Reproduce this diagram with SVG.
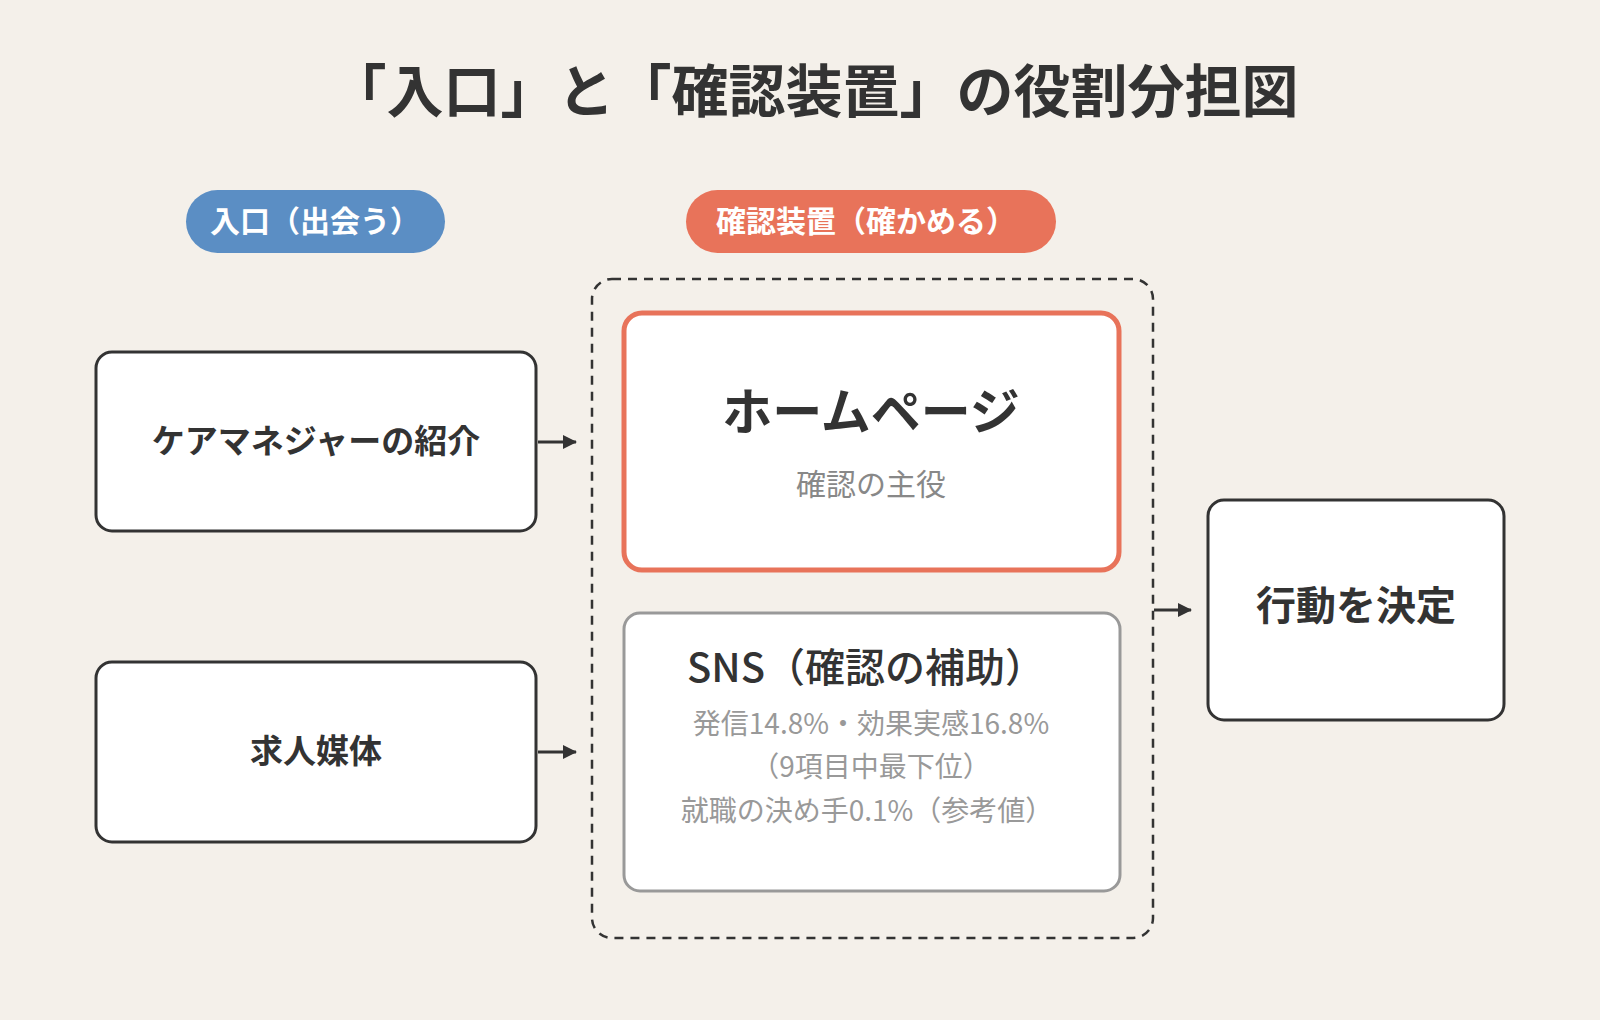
<svg xmlns="http://www.w3.org/2000/svg" width="1600" height="1020" viewBox="0 0 1600 1020">
<defs>
<marker id="ah" markerWidth="14" markerHeight="14" refX="13" refY="7" orient="auto" markerUnits="userSpaceOnUse"><path d="M0,0 L14,7 L0,14 z" fill="#333"/></marker>
<style>
text{font-family:"Noto Sans CJK JP","Noto Sans",sans-serif;text-anchor:middle}
.box{fill:#fff;stroke:#333;stroke-width:3}
.b{font-weight:700;fill:#333}
.g{fill:#999;font-size:28px}
.c{stroke:#333;stroke-width:3;fill:none;marker-end:url(#ah)}
</style>
</defs>
<rect width="1600" height="1020" fill="#f4f0ea"/>
<text x="814" y="112" class="b" font-size="57" font-weight="900">「入口」と「確認装置」の役割分担図</text>
<g id="pill-entry"><rect x="186" y="190" width="259" height="63" rx="31.5" fill="#5b8ec4"/><text x="315" y="232" font-size="30" font-weight="700" fill="#fff">入口（出会う）</text></g>
<g id="pill-confirm"><rect x="686" y="190" width="370" height="63" rx="31.5" fill="#e8735a"/><text x="866" y="232" font-size="30" font-weight="700" fill="#fff">確認装置（確かめる）</text></g>
<g id="group-confirm"><rect x="592" y="279" width="561" height="659" rx="20" fill="none" stroke="#333" stroke-width="2.5" stroke-dasharray="9 7"/></g>
<g id="homepage"><rect x="624" y="313" width="495" height="257" rx="18" fill="#fff" stroke="#e8735a" stroke-width="5"/><text x="871" y="430" class="b" font-size="50" font-weight="900">ホームページ</text><text x="871" y="495" font-size="30" fill="#888">確認の主役</text></g>
<g id="sns"><rect x="624" y="613" width="496" height="278" rx="16" fill="#fff" stroke="#999" stroke-width="3"/><text x="866" y="682" font-size="40" font-weight="500" fill="#333">SNS（確認の補助）</text><text x="871" y="734" class="g">発信14.8%・効果実感16.8%</text><text x="871" y="777" class="g">（9項目中最下位）</text><text x="867" y="821" class="g">就職の決め手0.1%（参考値）</text></g>
<g id="caremanager"><rect x="96" y="352" width="440" height="179" rx="16" class="box"/><text x="316" y="453" class="b" font-size="33">ケアマネジャーの紹介</text></g>
<g id="jobmedia"><rect x="96" y="662" width="440" height="180" rx="16" class="box"/><text x="316" y="763" class="b" font-size="33">求人媒体</text></g>
<g id="decide"><rect x="1208" y="500" width="296" height="220" rx="16" class="box"/><text x="1356" y="620" class="b" font-size="40">行動を決定</text></g>
<g id="connectors"><line x1="538" y1="442" x2="576" y2="442" class="c"/><line x1="538" y1="752" x2="576" y2="752" class="c"/><line x1="1154" y1="610" x2="1191" y2="610" class="c"/></g>
</svg>
